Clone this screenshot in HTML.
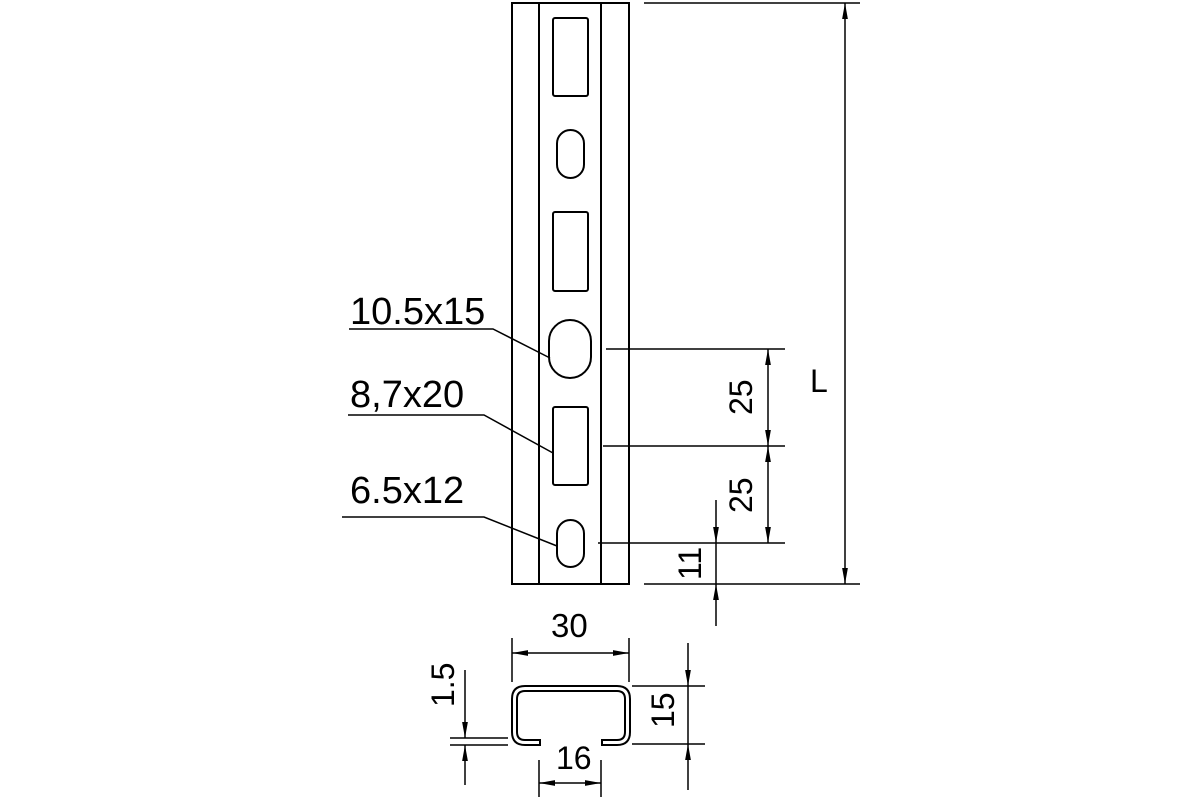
<!DOCTYPE html>
<html><head><meta charset="utf-8"><style>html,body{margin:0;padding:0;background:#fff}svg{display:block}</style></head>
<body>
<svg width="1200" height="800" viewBox="0 0 1200 800" xmlns="http://www.w3.org/2000/svg">
<defs>
<marker id="a" viewBox="0 0 10 10" refX="10" refY="5" markerWidth="16" markerHeight="16" markerUnits="userSpaceOnUse" orient="auto-start-reverse"><path d="M0,3.2 L10,5 L0,6.8 z" fill="#000"/></marker>
</defs>
<g fill="none" stroke="#000" stroke-width="2">
<rect x="512" y="3" width="117" height="581"/>
<line x1="539" y1="3" x2="539" y2="584"/>
<line x1="601" y1="3" x2="601" y2="584"/>
<rect x="553" y="18" width="35" height="78" rx="2"/>
<rect x="557" y="130" width="27" height="48" rx="13.5"/>
<rect x="553" y="212" width="35" height="79" rx="2"/>
<rect x="549" y="320" width="42" height="58" rx="21"/>
<rect x="553" y="407" width="35" height="78" rx="2"/>
<rect x="557" y="520" width="27" height="47" rx="13.5"/>
</g>
<g fill="none" stroke="#000" stroke-width="1.5">
<line x1="644" y1="3" x2="860" y2="3"/>
<line x1="606" y1="349" x2="785" y2="349"/>
<line x1="603" y1="446" x2="785" y2="446"/>
<line x1="598" y1="543" x2="785" y2="543"/>
<line x1="644" y1="584" x2="860" y2="584"/>
<line x1="845" y1="3" x2="845" y2="584" marker-start="url(#a)" marker-end="url(#a)"/>
<line x1="768" y1="349" x2="768" y2="446" marker-start="url(#a)" marker-end="url(#a)"/>
<line x1="768" y1="446" x2="768" y2="543" marker-start="url(#a)" marker-end="url(#a)"/>
<line x1="716" y1="500" x2="716" y2="543" marker-end="url(#a)"/>
<line x1="716" y1="626" x2="716" y2="584" marker-end="url(#a)"/>
<line x1="716" y1="543" x2="716" y2="584"/>
<polyline points="349,329 493,329 550,358"/>
<polyline points="348,415 484,415 553,453"/>
<polyline points="342,517 484,517 557,546"/>
<line x1="512" y1="638" x2="512" y2="682"/>
<line x1="629" y1="638" x2="629" y2="682"/>
<line x1="512" y1="653" x2="629" y2="653" marker-start="url(#a)" marker-end="url(#a)"/>
<line x1="632" y1="686" x2="705" y2="686"/>
<line x1="632" y1="744" x2="705" y2="744"/>
<line x1="688" y1="643" x2="688" y2="686" marker-end="url(#a)"/>
<line x1="688" y1="790" x2="688" y2="744" marker-end="url(#a)"/>
<line x1="688" y1="686" x2="688" y2="744"/>
<line x1="539" y1="760" x2="539" y2="797"/>
<line x1="601" y1="760" x2="601" y2="797"/>
<line x1="539" y1="783" x2="601" y2="783" marker-start="url(#a)" marker-end="url(#a)"/>
<line x1="450" y1="738" x2="508" y2="738"/>
<line x1="450" y1="745" x2="508" y2="745"/>
<line x1="465" y1="670" x2="465" y2="738" marker-end="url(#a)"/>
<line x1="465" y1="785" x2="465" y2="745" marker-end="url(#a)"/>
</g>
<g fill="none" stroke="#000" stroke-width="2">
<path d="M540,745 L525,745 Q512,745 512,732 L512,699 Q512,686 525,686 L617,686 Q630,686 630,699 L630,732 Q630,745 617,745 L602,745 L602,740 L617,740 Q625,740 625,732 L625,699 Q625,691 617,691 L525,691 Q517,691 517,699 L517,732 Q517,740 525,740 L540,740 Z"/>
</g>
<g font-family="Liberation Sans, sans-serif" font-size="38" fill="#000">
<text x="350" y="324">10.5x15</text>
<text x="350" y="407">8,7x20</text>
<text x="350" y="503">6.5x12</text>
<text x="551" y="637" font-size="33">30</text>
<text x="556" y="769" font-size="32">16</text>
<text transform="translate(752,415) rotate(-90)" font-size="32">25</text>
<text transform="translate(752,513) rotate(-90)" font-size="32">25</text>
<text transform="translate(701,580) rotate(-90)" font-size="32">11</text>
<text transform="translate(674,728) rotate(-90)" font-size="32">15</text>
<text transform="translate(454,707) rotate(-90)" font-size="32">1.5</text>
<text x="810" y="392" font-size="32">L</text>
</g>
</svg>
</body></html>
